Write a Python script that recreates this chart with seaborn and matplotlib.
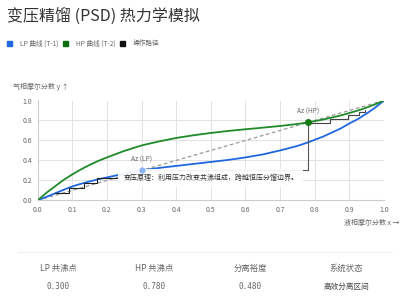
import numpy as np
import pandas as pd
import matplotlib
matplotlib.use("Agg")
import matplotlib.pyplot as plt
import seaborn as sns

# curve data
x_vals = [0.0, 0.025, 0.05, 0.075, 0.1, 0.125, 0.15, 0.175, 0.2, 0.25, 0.3, 0.35, 0.4, 0.45,
          0.5, 0.55, 0.6, 0.65, 0.7, 0.75, 0.78, 0.825, 0.85, 0.875, 0.9, 0.925, 0.95, 0.975, 1.0]
lp_y = [0.0, 0.035, 0.07, 0.106, 0.14, 0.166, 0.19, 0.211, 0.23, 0.267, 0.30, 0.325, 0.345, 0.365,
        0.385, 0.405, 0.43, 0.46, 0.50, 0.545, 0.58, 0.64, 0.68, 0.72, 0.77, 0.815, 0.87, 0.93, 1.0]
hp_y = [0.0, 0.075, 0.14, 0.205, 0.26, 0.31, 0.355, 0.395, 0.43, 0.495, 0.55, 0.59, 0.625, 0.652,
        0.675, 0.695, 0.712, 0.728, 0.745, 0.765, 0.78, 0.81, 0.83, 0.85, 0.875, 0.9, 0.93, 0.962, 1.0]

# operating path (staircases + link between azeotropes)
lp_step_x = [0.05, 0.09, 0.09, 0.133, 0.133, 0.172, 0.172, 0.23]
lp_step_y = [0.07, 0.07, 0.12, 0.12, 0.175, 0.175, 0.22, 0.22]
hp_step_x = [0.78, 0.845, 0.845, 0.895, 0.895, 0.928, 0.928, 0.945, 0.945]
hp_step_y = [0.775, 0.775, 0.815, 0.815, 0.855, 0.855, 0.885, 0.885, 0.90]
link_x = [0.78, 0.78, 0.30]
link_y = [0.78, 0.30, 0.30]

az_lp = 0.300
az_hp = 0.780
stat_labels = ["LP 共沸点", "HP 共沸点", "分离裕度", "系统状态"]
stat_values = ["0.300", "0.780", "0.480", "高效分离区间"]

BLUE = "#1f68e0"
GREEN = "#1e8a2a"
GRAY = "#666666"

sns.set_theme(style="whitegrid")
plt.rcParams["font.family"] = ["Noto Sans CJK SC", "DejaVu Sans"]

fig = plt.figure(figsize=(4, 3), dpi=100)
fig.patch.set_facecolor("white")

df = pd.DataFrame({"x": x_vals * 2,
                   "y": lp_y + hp_y,
                   "curve": ["LP"] * len(x_vals) + ["HP"] * len(x_vals)})

ax = fig.add_axes([0.094, 0.332, 0.866, 0.333])
ax.set_facecolor("white")
ax.plot([0, 1], [0, 1], ls=(0, (3, 2)), color="#999999", lw=0.9, zorder=2)
sns.lineplot(data=df, x="x", y="y", hue="curve", palette={"LP": BLUE, "HP": GREEN},
             lw=1.3, legend=False, ax=ax, zorder=3)
ax.plot(lp_step_x, lp_step_y, color="#222222", lw=0.8, zorder=4)
ax.plot(hp_step_x, hp_step_y, color="#444444", lw=0.8, zorder=4)
ax.plot(link_x, link_y, color="#555555", lw=0.8, zorder=4)

ax.scatter([az_lp], [az_lp], s=12, color="#8ab4f8", zorder=8)
ax.scatter([az_hp], [az_hp], s=16, color="#137a13", zorder=8)
ax.text(az_lp, az_lp + 0.07, "Az (LP)", fontsize=4.8, color=GRAY, ha="center", va="bottom")
ax.text(az_hp, az_hp + 0.07, "Az (HP)", fontsize=4.8, color=GRAY, ha="center", va="bottom")
ax.text(0.247, 0.225, "变压原理：利用压力改变共沸组成，跨越恒压分馏边界。",
        fontsize=5.0, color="#333333", ha="left", va="center", zorder=7,
        bbox=dict(boxstyle="square,pad=0.75", fc="white", ec="none", alpha=0.93))

ax.set_xlim(0, 1)
ax.set_ylim(0, 1)
ax.set_xticks(np.arange(0, 1.01, 0.1))
ax.set_yticks(np.arange(0, 1.01, 0.2))
ax.set_xticklabels([f"{t:.1f}" for t in np.arange(0, 1.01, 0.1)])
ax.set_yticklabels([f"{t:.1f}" for t in np.arange(0, 1.01, 0.2)])
ax.tick_params(labelsize=5, colors=GRAY, length=0, pad=4)
ax.grid(color="#e3e3e3", lw=0.7)
ax.set_xlabel("")
ax.set_ylabel("")
for side in ["top", "right"]:
    ax.spines[side].set_visible(False)
for side in ["left", "bottom"]:
    ax.spines[side].set_color("#cccccc")
    ax.spines[side].set_linewidth(0.8)

fig.text(0.032, 0.71, "气相摩尔分数 y ↑", fontsize=5, color=GRAY, va="center")
fig.text(1.0, 0.257, "液相摩尔分数 x →", fontsize=5, color=GRAY, ha="right", va="center")

# title + legend
fig.text(0.018, 0.945, "变压精馏 (PSD) 热力学模拟", fontsize=11.5, color="#333333", va="center")
legend_items = [(0.018, BLUE, "LP 曲线 (T-1)"), (0.158, "#0b6e0b", "HP 曲线 (T-2)"),
                (0.300, "#111111", "操作路径")]
for lx, c, lab in legend_items:
    fig.patches.append(plt.Rectangle((lx, 0.846), 0.013, 0.018, color=c,
                                     transform=fig.transFigure, figure=fig))
    fig.text(lx + 0.032, 0.855, lab, fontsize=4.8, color=GRAY, va="center")

# stats footer
fig.add_artist(plt.Line2D([0.045, 0.98], [0.16, 0.16], color="#eeeeee", lw=0.8,
                          transform=fig.transFigure))
for i, (lab, val) in enumerate(zip(stat_labels, stat_values)):
    cx = 0.145 + i * 0.24
    fig.text(cx, 0.105, lab, fontsize=6, color=GRAY, ha="center", va="center")
    if i < 3:
        fig.text(cx, 0.045, val, fontsize=5.5, color=GRAY, ha="center", va="center",
                 family="DejaVu Sans Mono")
    else:
        fig.text(cx, 0.045, val, fontsize=5.5, color="#444444", ha="center", va="center")

fig.savefig("out.png", dpi=100)
